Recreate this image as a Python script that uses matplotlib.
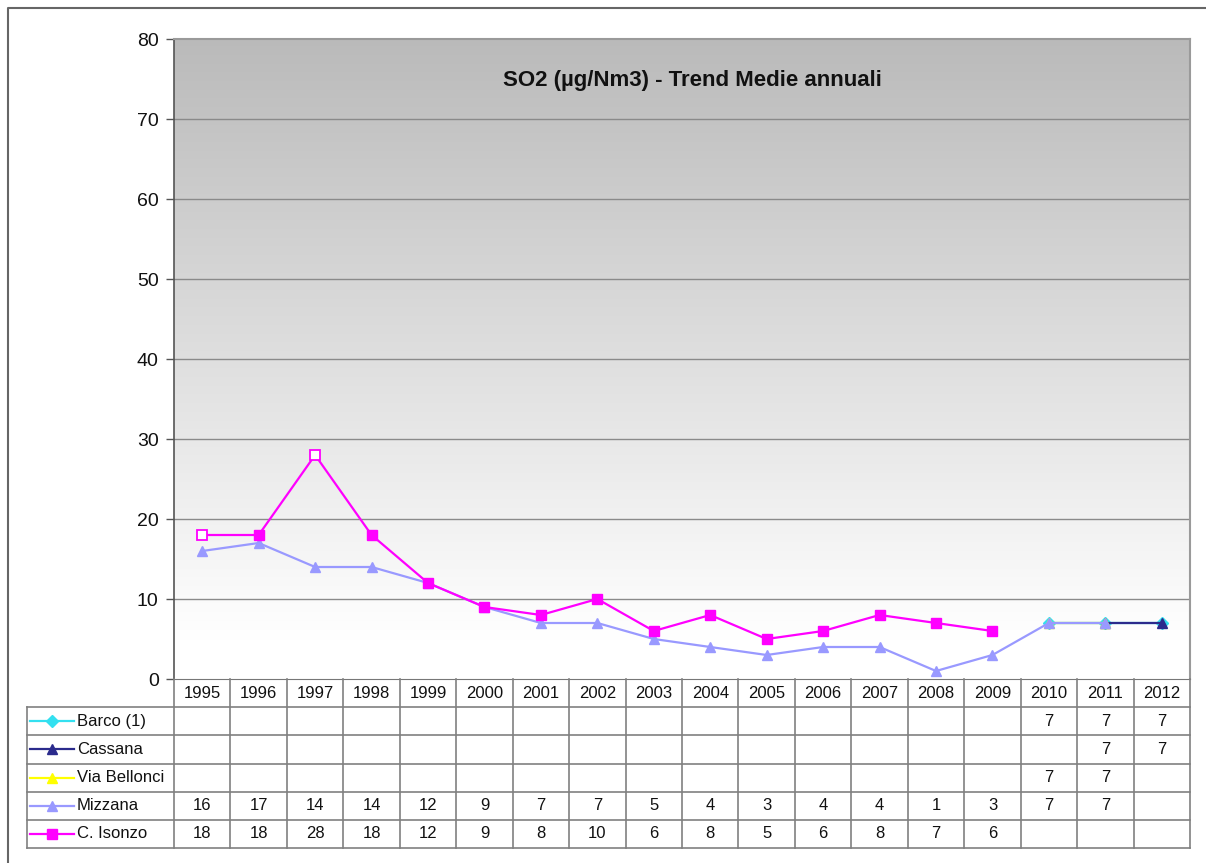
import numpy as np
import matplotlib
matplotlib.use("Agg")
import matplotlib.pyplot as plt

nan = np.nan
years = [str(y) for y in range(1995, 2013)]
series_names = ["Barco (1)", "Cassana", "Via Bellonci", "Mizzana", "C. Isonzo"]
barco = [nan]*15 + [7, 7, 7]
cassana = [nan]*16 + [7, 7]
bellonci = [nan]*15 + [7, 7, nan]
mizzana = [16, 17, 14, 14, 12, 9, 7, 7, 5, 4, 3, 4, 4, 1, 3, 7, 7, nan]
isonzo = [18, 18, 28, 18, 12, 9, 8, 10, 6, 8, 5, 6, 8, 7, 6, nan, nan, nan]
isonzo_hollow = [0, 2]
title = "SO2 (\u00b5g/Nm3) - Trend Medie annuali"
yticks = [0, 10, 20, 30, 40, 50, 60, 70, 80]

colors = ["#33E0F0", "#2B2B8C", "#FFFF00", "#9999FF", "#FF00FF"]
markers = ["D", "^", "^", "^", "s"]
msizes = [6, 7, 7, 7, 7]
data = [barco, cassana, bellonci, mizzana, isonzo]

plt.rcParams['font.family'] = ['Liberation Sans', 'DejaVu Sans']

W, H = 1206, 863
fig = plt.figure(figsize=(W/100, H/100), dpi=100)
fig.patch.set_facecolor("white")

# outer frame
frame = fig.add_axes([0, 0, 1, 1], facecolor="none")
frame.set_xlim(0, W); frame.set_ylim(H, 0); frame.axis("off")
frame.plot([8, 8, W + 10], [H + 10, 8, 8], color="#666666", lw=1.5, clip_on=False)

L, R, T, B = 174, 1190, 39, 679
ax = fig.add_axes([L/W, 1 - B/H, (R-L)/W, (B-T)/H])
x = np.arange(len(years))
ax.set_xlim(-0.5, len(years) - 0.5)
ax.set_ylim(0, 80)

# gradient background
vals = np.linspace(0, 80, 400)
g = np.clip(1.0 - (vals - 5) / 75 * 0.27, 0.73, 1.0)
img = np.repeat(g[:, None], 2, axis=1)
ax.imshow(np.dstack([img, img, img]), extent=[-0.5, len(years) - 0.5, 0, 80],
          origin="lower", aspect="auto", zorder=0, interpolation="bilinear")

for yv in yticks[1:-1]:
    ax.axhline(yv, color="#8a8a8a", lw=1.0, zorder=1)

ax.set_yticks(yticks)
ax.set_yticklabels([str(v) for v in yticks], fontsize=14, color="#111111")
ax.tick_params(axis="y", length=6, width=1, color="#555555", pad=5)
ax.set_xticks([])
for s in ["top", "right"]:
    ax.spines[s].set_color("#9a9a9a"); ax.spines[s].set_linewidth(1.5)
ax.spines["left"].set_color("#555555"); ax.spines["left"].set_linewidth(1.2)
ax.spines["bottom"].set_color("#777777")

for i, (d, c, m, ms) in enumerate(zip(data, colors, markers, msizes)):
    arr = np.array(d, dtype=float)
    if i == 4:
        ax.plot(x, arr, color=c, lw=1.6, zorder=3 + i)
        filled = [k for k in range(len(arr)) if k not in isonzo_hollow]
        ax.plot(x[filled], arr[filled], ls="none", marker=m, ms=ms, color=c, zorder=3 + i)
        ax.plot(x[isonzo_hollow], arr[isonzo_hollow], ls="none", marker=m, ms=ms,
                mfc="white", mec=c, mew=1.3, zorder=3 + i)
    else:
        ax.plot(x, arr, color=c, lw=1.6, marker=m, ms=ms, zorder=3 + i)

ax.text(0.51, 0.935, title, transform=ax.transAxes, ha="center", va="center",
        fontsize=16, fontweight="bold", color="#111111")

# data table
TB = 848
tax = fig.add_axes([L/W, 1 - TB/H, (R-L)/W, (TB-B)/H], facecolor="none")
nrows = len(series_names) + 1
tax.set_xlim(-0.5, len(years) - 0.5)
tax.set_ylim(nrows, 0)
tax.axis("off")
colw_px = (R - L) / len(years)
xleft = -0.5 - (L - 27) / colw_px
lc = "#808080"
fs = 12
for k in range(len(years) + 1):
    tax.plot([k - 0.5, k - 0.5], [0, nrows], color=lc, lw=1.2, clip_on=False)
tax.plot([xleft, xleft], [1, nrows], color=lc, lw=1.2, clip_on=False)
for r in range(1, nrows + 1):
    tax.plot([xleft, len(years) - 0.5], [r, r], color=lc, lw=1.2, clip_on=False)
for k, yr in enumerate(years):
    tax.text(k, 0.5, yr, ha="center", va="center", fontsize=fs, color="#111111")
for r, (name, d, c, m, ms) in enumerate(zip(series_names, data, colors, markers, msizes)):
    yy = r + 1.5
    x0 = xleft + 3 / colw_px
    x1 = xleft + 47 / colw_px
    tax.plot([x0, x1], [yy, yy], color=c, lw=1.6, clip_on=False)
    tax.plot([(x0 + x1) / 2], [yy], marker=m, ms=ms, color=c, clip_on=False)
    tax.text(x1 + 3 / colw_px, yy, name, ha="left", va="center", fontsize=fs, color="#111111")
    for k, v in enumerate(d):
        if not np.isnan(v):
            tax.text(k, yy, str(int(v)), ha="center", va="center", fontsize=fs, color="#111111")

fig.savefig("out.png", dpi=100)
